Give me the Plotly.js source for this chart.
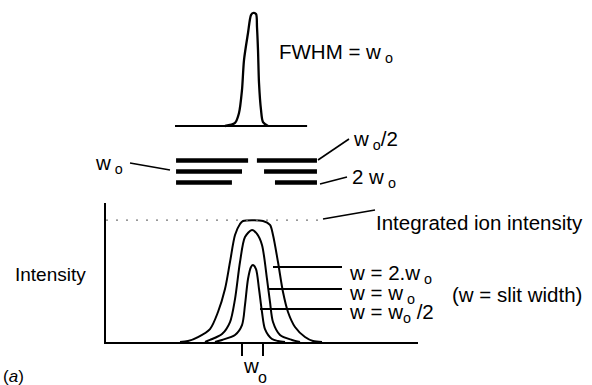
<!DOCTYPE html>
<html><head><meta charset="utf-8">
<script src="https://cdn.plot.ly/plotly-3.0.1.min.js"></script>
<style>html,body{margin:0;padding:0;background:#fff}#chart{width:592px;height:385px}</style>
</head><body><div id="chart"></div>
<script>
// x positions are in units of w0 relative to the peak centre; intensities are normalised.
const peakX = [-1.31, -0.833, -0.643, -0.5, -0.405, -0.214, -0.071, 0.024, 0.167, 0.214, 0.262, 0.31, 0.405, 0.5, 0.738];
const peakY = [0, 0.027, 0.115, 0.319, 0.584, 0.823, 0.982, 1.0, 0.991, 0.876, 0.673, 0.381, 0.142, 0.035, 0];
const peakBaseX = [-3.69, 2.6];
const peakBaseY = [0, 0];

const slitRows = [1, 2, 3];
const slitOuterLeft = -3.64;
const slitOuterRight = 3.07;
const slitGapLeft = [-0.21, -0.5, -0.98];
const slitGapRight = [0.21, 0.55, 1.07];

const w2X = [-3.452, -3.071, -2.595, -2.024, -1.643, -1.31, -1.071, -0.833, -0.595, -0.452, 0.5, 0.833, 0.976, 1.214, 1.452, 1.69, 2.024, 2.5, 2.881, 3.31];
const w2Y = [0, 0.008, 0.041, 0.107, 0.248, 0.438, 0.661, 0.884, 0.975, 1.0, 1.0, 0.967, 0.884, 0.661, 0.413, 0.248, 0.124, 0.041, 0.008, 0];
const w1X = [-2.262, -2.024, -1.452, -1.071, -0.833, -0.595, -0.357, -0.024, 0.214, 0.452, 0.69, 0.833, 0.976, 1.31, 1.881, 2.262];
const w1Y = [0, 0.017, 0.066, 0.165, 0.355, 0.661, 0.868, 0.926, 0.893, 0.802, 0.521, 0.331, 0.165, 0.058, 0.017, 0];
const whX = [-1.786, -1.452, -0.833, -0.5, -0.357, -0.214, -0.071, 0.024, 0.167, 0.31, 0.452, 0.595, 0.929, 1.214, 1.548];
const whY = [0, 0.017, 0.058, 0.14, 0.306, 0.521, 0.62, 0.636, 0.603, 0.438, 0.248, 0.107, 0.025, 0.008, 0];

const integratedLevel = 1.008;
const integratedFrom = -6.976;
const integratedTo = 3.31;
const w0Ticks = [-0.5, 0.5];

const W = 592, H = 385;
const px = x => x / W;
const py = y => 1 - y / H;
const FONT = 'Liberation Sans, Arial, Helvetica, sans-serif';
const FS = 20.5;
const blk = '#000';

const traces = [];
traces.push({x: peakBaseX, y: peakBaseY, xaxis: 'x2', yaxis: 'y2', mode: 'lines', line: {color: blk, width: 2}});
traces.push({x: peakX, y: peakY, xaxis: 'x2', yaxis: 'y2', mode: 'lines', line: {color: blk, width: 2.3, shape: 'spline', smoothing: 0.8}});

const sx = [], sy = [];
slitRows.forEach((r, i) => {
  sx.push(slitOuterLeft, slitGapLeft[i], null, slitGapRight[i], slitOuterRight, null);
  sy.push(r, r, null, r, r, null);
});
traces.push({x: sx, y: sy, xaxis: 'x2', yaxis: 'y3', mode: 'lines', line: {color: blk, width: 4.5}});

[[w2X, w2Y], [w1X, w1Y], [whX, whY]].forEach(([x, y]) => {
  traces.push({x, y, xaxis: 'x', yaxis: 'y', mode: 'lines', line: {color: blk, width: 2, shape: 'spline', smoothing: 0.8}});
});

const ann = (text, x, y, opts = {}) => Object.assign({
  text, x: px(x), y: py(y), xref: 'paper', yref: 'paper', xanchor: 'left', yanchor: 'middle',
  showarrow: false, font: {family: FONT, size: FS, color: blk}
}, opts);

const annotations = [
  ann('FWHM = w<sub> o</sub>', 277, 53),
  ann('w<sub> o</sub>/2', 351, 140),
  ann('w<sub> o</sub>', 93, 164),
  ann('2 w<sub> o</sub>', 350, 178),
  ann('Integrated ion intensity', 374, 222),
  ann('Intensity', 88, 274, {xanchor: 'right', font: {family: FONT, size: 19, color: blk}}),
  ann('w = 2.w<sub> o</sub>', 347, 274),
  ann('w = w<sub> o</sub>', 347, 294),
  ann('(w = slit width)', 450, 294),
  ann('w = w<sub>o</sub> /2', 347, 313),
  ann('w', 250.5, 365, {xanchor: 'center'}),
  ann('o', 262, 377, {xanchor: 'center', font: {family: FONT, size: 16, color: blk}}),
  ann('(<i>a</i>)', 1, 376, {font: {family: FONT, size: 17, color: blk}})
];

const seg = (x0, y0, x1, y1, w = 1.6) => ({type: 'line', xref: 'paper', yref: 'paper',
  x0: px(x0), y0: py(y0), x1: px(x1), y1: py(y1), line: {color: blk, width: w}});

const shapes = [
  seg(130, 163, 170, 170),
  seg(318, 160, 349, 139),
  seg(320, 184, 347, 177),
  seg(323, 219, 375, 210),
  seg(273, 267, 342, 267, 2),
  seg(268, 289, 342, 289, 2),
  seg(260, 309, 342, 309, 2),
  {type: 'line', xref: 'x', yref: 'y', x0: integratedFrom, x1: integratedTo, y0: integratedLevel, y1: integratedLevel,
   line: {color: '#777', width: 1.2, dash: '2px,8px'}}
];

const layout = {
  width: W, height: H, margin: {l: 0, r: 0, t: 0, b: 0},
  paper_bgcolor: '#fff', plot_bgcolor: 'rgba(0,0,0,0)', showlegend: false,
  xaxis: {domain: [106 / W, 418 / W], range: [(106 - 252.5) / 21, (418 - 252.5) / 21], anchor: 'y',
    showline: true, linecolor: blk, linewidth: 2, showgrid: false, zeroline: false,
    tickmode: 'array', tickvals: w0Ticks, ticks: 'outside', ticklen: 12, tickwidth: 2, tickcolor: blk, showticklabels: false},
  yaxis: {domain: [(H - 342) / H, (H - 203) / H], range: [0, 139 / 121], anchor: 'x',
    showline: true, linecolor: blk, linewidth: 2, showgrid: false, zeroline: false, ticks: '', showticklabels: false},
  xaxis2: {domain: [0, 1], range: [-252.5 / 21, (592 - 252.5) / 21], anchor: 'y2', visible: false},
  yaxis2: {domain: [(H - 130) / H, (H - 5) / H], range: [-4 / 113, 121 / 113], anchor: 'x2', visible: false},
  yaxis3: {domain: [(H - 190) / H, (H - 150) / H], range: [(190 - 149.5) / 11, (150 - 149.5) / 11], anchor: 'x2', visible: false},
  annotations, shapes
};

Plotly.newPlot('chart', traces, layout, {staticPlot: true, displayModeBar: false});
</script></body></html>
